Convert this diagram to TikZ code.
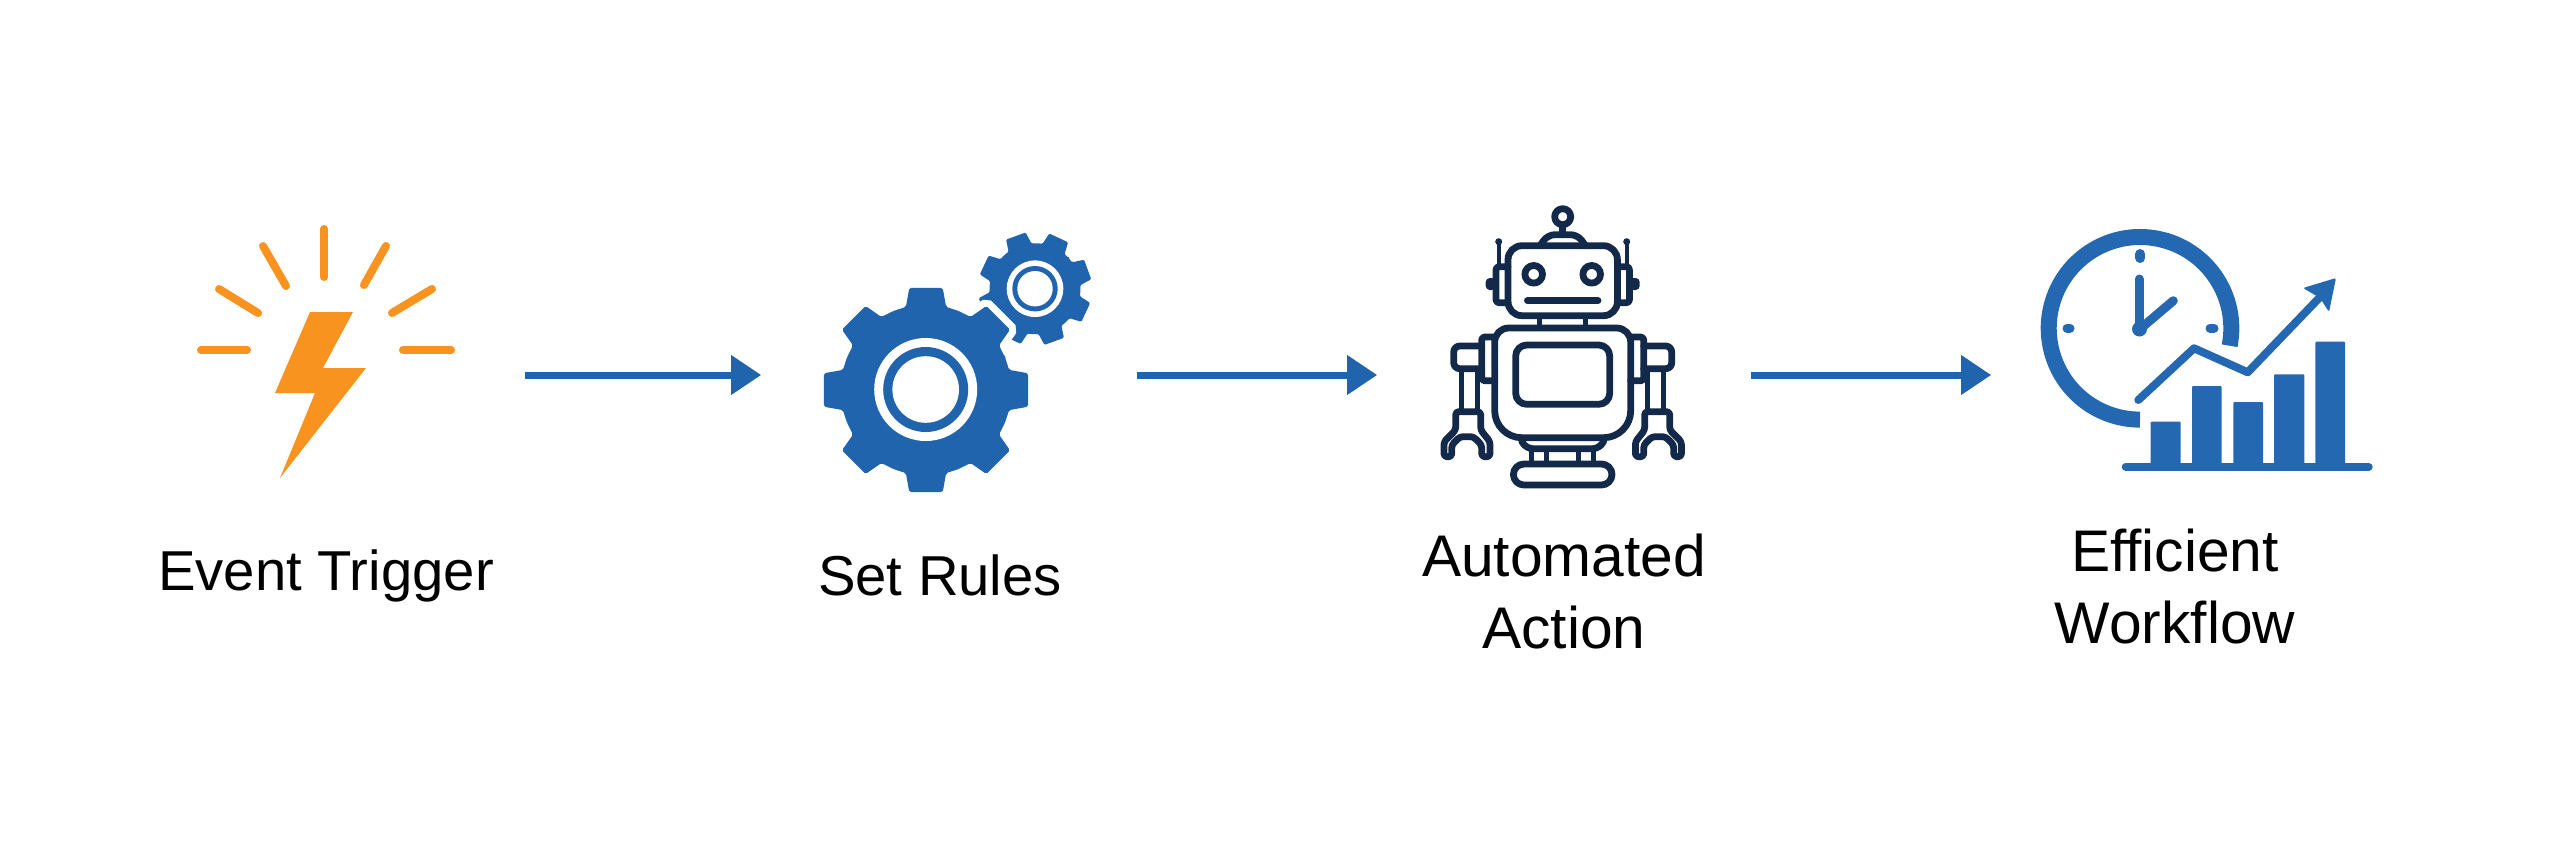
\documentclass[tikz,border=0pt]{standalone}
\usepackage{fontspec}
\setmainfont{Liberation Sans}
\usetikzlibrary{arrows.meta}
\definecolor{boltorange}{HTML}{F8931F}
\definecolor{gearblue}{HTML}{2064AE}
\definecolor{chartblue}{HTML}{2468B2}
\definecolor{robotnavy}{HTML}{12294A}
\tikzset{
	iconbox/.style={minimum height=1cm,inner sep=0pt},
	flow/.style={color=gearblue,line width=0.07cm,-{Triangle[length=0.3cm,width=0.38cm]}},
	caption/.style={font=\fontsize{16}{20.8}\selectfont,align=center,anchor=base,inner sep=0pt},
	tallcaption/.style={caption,font=\fontsize{16.7}{20.3}\selectfont},
	ray/.style={draw=boltorange,line width=0.08cm,line cap=round},
	robotline/.style={draw=robotnavy,line width=0.068cm,line cap=round,line join=round},
	clockline/.style={draw=chartblue,line width=0.09cm,line cap=round},
	chartbar/.style={fill=chartblue,rounded corners=0.01cm}
}
\newcommand{\gearbody}[8]{
	\begin{scope}[shift={(#2,#3)}]
	\path[#1] ({#4-22.5}:#6) \foreach \k in {0,...,7} {
		-- ({#4+45*\k-#8}:#6) -- ({#4+45*\k-#7}:#5) -- ({#4+45*\k+#7}:#5) -- ({#4+45*\k+#8}:#6) -- ({#4+45*\k+22.5}:#6)
	} -- cycle;
	\end{scope}
}
\begin{document}
\begin{tikzpicture}[x=0.01cm,y=-0.01cm]
\useasboundingbox (0,0) rectangle (2560,845);
\node[iconbox,minimum width=3.98cm]	(trigger)	at (325,375)	{};
\node[iconbox,minimum width=3.74cm]	(rules)		at (949,375)	{};
\node[iconbox,minimum width=3.72cm]	(robot)		at (1564,375)	{};
\node[iconbox,minimum width=3.76cm]	(workflow)	at (2180,375)	{};
\path[flow]	(trigger)	edge	(rules)
		(rules)		edge	(robot)
		(robot)		edge	(workflow);
\node[caption]		(triggerlabel)	at (326,590)	{Event Trigger};
\node[caption]		(ruleslabel)	at (940,595)	{Set Rules};
\node[tallcaption]	(robotlabel)	at (1564,648)	{Automated\\Action};
\node[tallcaption]	(workflowlabel)	at (2175,643)	{Efficient\\Workflow};
\draw[ray] (324,229) -- (324,277);
\draw[ray] (263,246) -- (286,286);
\draw[ray] (219,289) -- (258,313);
\draw[ray] (201,350) -- (247,350);
\draw[ray] (386,246) -- (364,285);
\draw[ray] (432,289) -- (392,313);
\draw[ray] (403,350) -- (451,350);
\fill[boltorange] (310,312) -- (353,312) -- (323,368) -- (366,368) -- (280,478) -- (315,393) -- (275,393) -- cycle;
\gearbody{fill=gearblue,rounded corners=0.012cm}{1035}{288.7}{-20}{57}{45.5}{10.5}{15.5}
\fill[white] (1035,288.7) circle[radius=28.3];
\fill[gearblue] (1035,288.7) circle[radius=22.7];
\fill[white] (1035,288.7) circle[radius=17.7];
\gearbody{fill=gearblue,rounded corners=0.018cm,preaction={draw=white,line width=0.14cm}}{926}{390}{0}{103.5}{85.5}{9.3}{13.6}
\fill[white] (925.7,389.5) circle[radius=51.5];
\fill[gearblue] (925.7,389.5) circle[radius=42.5];
\fill[white] (925.7,389.5) circle[radius=33.3];
\begin{scope}[shift={(1562.7,0)}]
\draw[robotline] (0,216.7) circle[radius=8];
\draw[robotline] (0,226) -- (0,234.7);
\draw[robotline,rounded corners=0.07cm] (-22.7,245.7) -- (-15,234.7) -- (15,234.7) -- (22.7,245.7);
\draw[robotline,rounded corners=0.14cm] (-54.7,245.7) rectangle (54.7,315.7);
\draw[robotline] (-29,274.3) circle[radius=8.8];
\draw[robotline] (29,274.3) circle[radius=8.8];
\draw[robotline] (-35.3,300.7) -- (35.3,300.7);
\draw[robotline,line width=0.05cm] (-23,316) -- (-23,328) (23,316) -- (23,328);
\draw[robotline] (0,328) [rounded corners=0.14cm] -| (68,382) [rounded corners=0.27cm] |- (0,437.7) -| (-68,382) [rounded corners=0.14cm] |- (0,328);
\draw[robotline,rounded corners=0.11cm] (-47,345) rectangle (47,404.3);
\draw[robotline,rounded corners=0.07cm] (-41,441) -- (-37,448.7) -- (37,448.7) -- (41,441);
\draw[robotline,line width=0.05cm] (-31,449) -- (-31,463) (-16,449) -- (-16,463) (16,449) -- (16,463) (31,449) -- (31,463);
\draw[robotline,rounded corners=0.105cm] (-49.3,464) rectangle (49.3,485);
\foreach \s in {1,-1} {
	\begin{scope}[xscale=\s]
	\draw[robotline,line width=0.04cm] (-64,241.7) -- (-64,265);
	\fill[robotnavy] (-64,241.7) circle[radius=3.5];
	\draw[robotline,rounded corners=0.03cm] (-54.7,266.7) -- (-66.7,266.7) -- (-66.7,302.7) -- (-54.7,302.7);
	\fill[robotnavy,rounded corners=0.04cm] (-77,278) rectangle (-67,290);
	\draw[robotline,rounded corners=0.03cm] (-68,337) -- (-81,337) -- (-81,380.7) -- (-68,380.7);
	\draw[robotline,rounded corners=0.06cm] (-81,346) -- (-109,346) -- (-109,368.7) -- (-81,368.7);
	\draw[robotline,line width=0.055cm] (-101,369) -- (-101,411) (-85,369) -- (-85,411);
	\draw[robotline,rounded corners=0.03cm] (-107,430) -- (-107,411.7) -- (-82,411.7) -- (-82,430) -- (-72.7,441.7) -- (-72.7,456.7) -- (-81,456.7) -- (-81,445) -- (-89.3,436.7) -- (-102.7,436.7) -- (-111,445) -- (-111,456.7) -- (-118.7,456.7) -- (-118.7,441.7) -- cycle;
	\end{scope}
}
\end{scope}
\draw[draw=chartblue,line width=0.16cm] (2140,328.3) ++(11:91.3) arc (11:-270:91.3);
\draw[clockline,line width=0.1cm] (2140.3,254) -- (2140.3,258);
\draw[clockline] (2067,328.3) -- (2070,328.3);
\draw[clockline] (2210,328.3) -- (2214,328.3);
\draw[clockline] (2139.3,279) -- (2139.3,328);
\draw[clockline] (2140,329) -- (2173.3,300.7);
\fill[chartblue] (2139.5,329) circle[radius=7.5];
\draw[clockline,line width=0.08cm,line join=round] (2138.3,400) -- (2194,348.3) -- (2247.7,372.3) -- (2322,295);
\fill[chartblue,rounded corners=0.015cm] (2303,288) -- (2336,278) -- (2329,312) -- (2320,298) -- cycle;
\fill[chartbar] (2150.7,421.7) rectangle (2180.7,466.7);
\fill[chartbar] (2192,386) rectangle (2221.7,466.7);
\fill[chartbar] (2233.3,402) rectangle (2263,466.7);
\fill[chartbar] (2274,374.3) rectangle (2304.3,466.7);
\fill[chartbar] (2315.3,341.7) rectangle (2345,466.7);
\draw[clockline,line width=0.08cm] (2125.7,466.7) -- (2368.7,466.7);
\end{tikzpicture}
\end{document}
